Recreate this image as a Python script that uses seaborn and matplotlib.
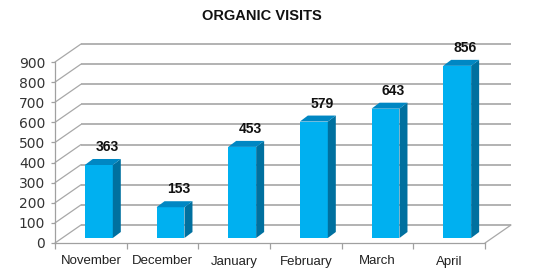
import matplotlib
matplotlib.use("Agg")
import matplotlib.pyplot as plt
import seaborn as sns
from matplotlib.patches import Polygon

months = ["November", "December", "January", "February", "March", "April"]
visits = [363, 153, 453, 579, 643, 856]
yticks = [0, 100, 200, 300, 400, 500, 600, 700, 800, 900]
title = "ORGANIC VISITS"

FRONT = "#00B0F0"
SIDE = "#00709F"
TOP = "#0087C3"
GRID = "#B2B2B2"

sns.set_theme(style="white")
plt.rcParams["font.family"] = ["Liberation Sans", "DejaVu Sans"]

W, H = 540, 278
fig = plt.figure(figsize=(W / 100, H / 100), dpi=100)
# front plane of the 3-D box (pixels)
x_left, x_right = 55, 485
y_zero, y_top = 243, 62
ax = fig.add_axes([x_left / W, (H - y_zero) / H, (x_right - x_left) / W, (y_zero - y_top) / H])

sns.barplot(x=months, y=visits, color=FRONT, saturation=1, width=0.39,
            edgecolor="none", linewidth=0, ax=ax, zorder=3)
ax.set_xlim(-0.5, len(months) - 0.5)
ax.set_ylim(0, 900)

pxx = (x_right - x_left) / len(months)   # pixels per category
pxy = (y_zero - y_top) / 900.0           # pixels per unit
def px2d(dx, dy):
    return dx / pxx, dy / pxy

# full depth of box and bar offsets
DX, DY = px2d(26, 18)
FX, FY = px2d(8, 5)     # bar front face offset
SX, SY = px2d(8, 6)     # bar depth

# back wall gridlines and left diagonals
x0, x1 = -0.5, len(months) - 0.5
for v in yticks:
    ax.plot([x0 + DX, x1 + DX], [v + DY, v + DY], color=GRID, lw=1.4,
            clip_on=False, zorder=1, solid_capstyle="butt")
    ax.plot([x0, x0 + DX], [v, v + DY], color="#A8A8A8", lw=0.9,
            clip_on=False, zorder=1)
# floor right edge
ax.plot([x1, x1 + DX], [0, DY], color="#A8A8A8", lw=0.9, clip_on=False, zorder=1)

# 3-D bars
for p, v in zip(ax.patches, visits):
    p.set_x(p.get_x() + FX)
    p.set_y(FY)
    p.set_clip_on(False)
    bx0 = p.get_x()
    bx1 = bx0 + p.get_width()
    top = FY + v
    side = Polygon([(bx1, FY), (bx1, top), (bx1 + SX, top + SY), (bx1 + SX, FY + SY)],
                   closed=True, facecolor=SIDE, edgecolor="none", clip_on=False, zorder=3)
    topf = Polygon([(bx0, top), (bx1, top), (bx1 + SX, top + SY), (bx0 + SX, top + SY)],
                   closed=True, facecolor=TOP, edgecolor="none", clip_on=False, zorder=3)
    ax.add_patch(side)
    ax.add_patch(topf)
    ax.annotate(f"{v}", xy=((bx0 + bx1) / 2 + SX, top + SY), xytext=(0, 12),
                textcoords="offset pixels", ha="center", va="center",
                fontsize=10, fontweight="bold", color="#111111", zorder=5,
                annotation_clip=False)

# spines and ticks
for s in ["top", "right"]:
    ax.spines[s].set_visible(False)
for s in ["left", "bottom"]:
    ax.spines[s].set_color("#A0A0A0")
    ax.spines[s].set_linewidth(0.9)
ax.set_yticks(yticks)
ax.set_yticklabels([str(t) for t in yticks], fontsize=10, color="#333333",
                   family=["DejaVu Sans"])
ax.tick_params(axis="y", direction="out", length=3, width=0.9, color="#A0A0A0", pad=4, left=True)
ax.set_xticks(range(len(months)))
ax.set_xticklabels(months, fontsize=9.5, color="#222222")
ax.set_xticks([i - 0.5 for i in range(len(months) + 1)], minor=True)
ax.tick_params(axis="x", which="major", length=0, pad=9)
ax.tick_params(axis="x", which="minor", direction="out", length=4, width=0.9,
               color="#A0A0A0", bottom=True)
ax.set_xlabel("")
ax.set_ylabel("")
ax.grid(False)
ax.set_facecolor("none")

fig.text(262 / W, 1 - 16 / H, title, ha="center", va="center",
         fontsize=10.5, fontweight="bold", color="#111111")

fig.savefig("out.png", dpi=100)
